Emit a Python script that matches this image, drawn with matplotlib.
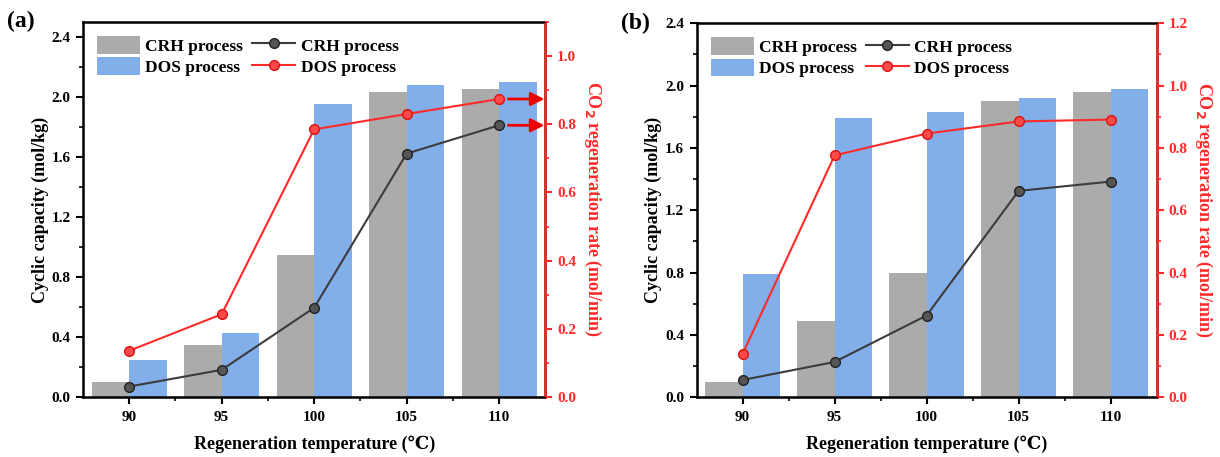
import matplotlib
matplotlib.use("Agg")
import matplotlib.pyplot as plt
import numpy as np
from matplotlib.ticker import MultipleLocator, FixedLocator

plt.rcParams["font.family"] = ["Liberation Serif", "DejaVu Serif"]
plt.rcParams["font.weight"] = "bold"

# data
temps = ["90", "95", "100", "105", "110"]

# panel (a)
a_crh_cap = [0.10, 0.35, 0.95, 2.03, 2.05]
a_dos_cap = [0.25, 0.43, 1.95, 2.08, 2.10]
a_crh_rate = [0.031, 0.080, 0.262, 0.714, 0.797]
a_dos_rate = [0.136, 0.243, 0.785, 0.830, 0.874]

# panel (b)
b_crh_cap = [0.10, 0.49, 0.80, 1.90, 1.96]
b_dos_cap = [0.79, 1.79, 1.83, 1.92, 1.98]
b_crh_rate = [0.055, 0.113, 0.262, 0.662, 0.692]
b_dos_rate = [0.139, 0.776, 0.846, 0.885, 0.891]

gray = "#ababab"
blue = "#82aeea"
red = "#ff2a2a"
dark = "#3c3c3c"

fig = plt.figure(figsize=(12.2, 4.57), dpi=100)
ax_a = fig.add_axes([0.068, 0.131, 0.379, 0.821])
ax_b = fig.add_axes([0.571, 0.131, 0.377, 0.818])


def panel(ax, crh_cap, dos_cap, crh_rate, dos_rate, ylim_l, ylim_r, rticks, label):
    x = np.arange(len(temps))
    w = 0.405
    ax.bar(x - w / 2, crh_cap, w, color=gray, label="CRH process")
    ax.bar(x + w / 2, dos_cap, w, color=blue, label="DOS process")
    ax.set_xlim(-0.5, 4.5)
    ax.set_ylim(*ylim_l)
    ax.set_xticks(x)
    ax.set_xticklabels(temps)
    ax.xaxis.set_minor_locator(FixedLocator(x[:-1] + 0.5))
    ax.yaxis.set_major_locator(MultipleLocator(0.4))
    ax.yaxis.set_minor_locator(MultipleLocator(0.2))
    ax.yaxis.set_major_formatter(matplotlib.ticker.FormatStrFormatter("%.1f"))
    ax.tick_params(axis="both", which="major", direction="out", length=5, width=1.5,
                   labelsize=11, pad=4)
    ax.tick_params(axis="both", which="minor", direction="out", length=3, width=1.2)
    ax.tick_params(axis="x", which="major", pad=5)
    for s in ax.spines.values():
        s.set_linewidth(1.8)
    ax.set_xlabel("Regeneration temperature (℃)", fontsize=13, fontweight="bold", labelpad=8)
    ax.set_ylabel("Cyclic capacity (mol/kg)", fontsize=13, fontweight="bold", labelpad=2)

    ax2 = ax.twinx()
    l1, = ax2.plot(x, crh_rate, "-o", color=dark, lw=1.5, ms=7,
                   mfc="#555555", mec="#222222", label="CRH process")
    l2, = ax2.plot(x, dos_rate, "-o", color=red, lw=1.5, ms=7,
                   mfc="#ff4a4a", mec="#e01010", label="DOS process")
    ax2.set_ylim(*ylim_r)
    ax2.yaxis.set_major_locator(FixedLocator(rticks))
    ax2.yaxis.set_minor_locator(MultipleLocator(0.1))
    ax2.yaxis.set_major_formatter(matplotlib.ticker.FormatStrFormatter("%.1f"))
    ax2.spines["right"].set_color(red)
    ax2.spines["right"].set_linewidth(1.8)
    ax2.tick_params(axis="y", which="major", colors=red, direction="out", length=5,
                    width=1.5, labelsize=11)
    ax2.tick_params(axis="y", which="minor", colors=red, direction="out", length=3, width=1.2)
    ax2.set_ylabel("CO$_\\mathbf{2}$ regeneration rate (mol/min)", color=red, fontsize=13,
                   fontweight="bold", rotation=270, labelpad=19)

    h1, lb1 = ax.get_legend_handles_labels()
    ax2.legend(h1 + [l1, l2], lb1 + ["CRH process", "DOS process"], ncol=2,
               loc="upper left", frameon=False, handlelength=2.5,
               handleheight=1.2, handletextpad=0.3, columnspacing=0.5,
               labelspacing=0.15, borderaxespad=0.4,
               prop={"weight": "bold", "size": 12.5})
    ax.text(-0.165, 1.0, label, transform=ax.transAxes, fontsize=17,
            fontweight="bold", va="center", ha="left")
    return ax2


ax2a = panel(ax_a, a_crh_cap, a_dos_cap, a_crh_rate, a_dos_rate,
             (0, 2.5), (0, 1.1), [0, 0.2, 0.4, 0.6, 0.8, 1.0], "(a)")
panel(ax_b, b_crh_cap, b_dos_cap, b_crh_rate, b_dos_rate,
      (0, 2.4), (0, 1.2), [0, 0.2, 0.4, 0.6, 0.8, 1.0, 1.2], "(b)")

# arrows pointing to the right axis in panel (a)
for v in [a_dos_rate[-1], a_crh_rate[-1]]:
    ax2a.annotate("", xy=(4.49, v), xytext=(4.1, v),
                  arrowprops=dict(arrowstyle="-|>", color="#ee0000", lw=2,
                                  mutation_scale=20, shrinkA=0, shrinkB=0))

fig.savefig("out.png", dpi=100)
